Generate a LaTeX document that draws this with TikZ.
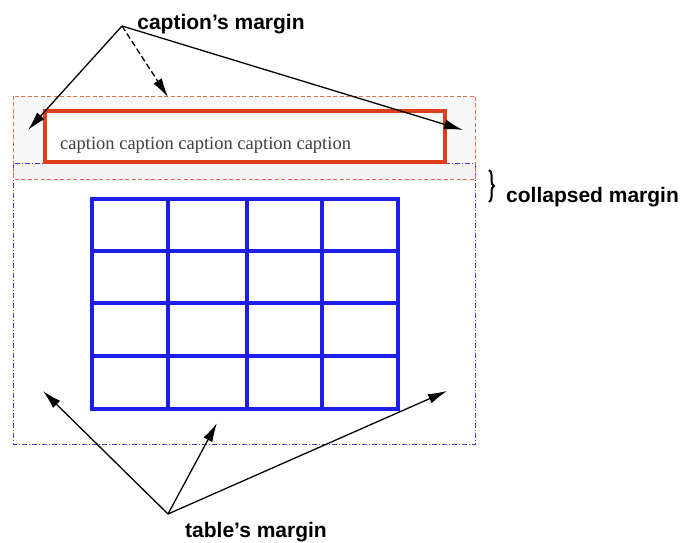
\documentclass[tikz,border=0pt]{standalone}
\usepackage{fontspec}
\setmainfont{Liberation Serif}
\setsansfont{Liberation Sans}
\usetikzlibrary{positioning,arrows.meta,decorations.pathreplacing}
\definecolor{capred}{RGB}{222,64,28}
\definecolor{marred}{RGB}{226,112,72}
\definecolor{tblblue}{RGB}{30,30,235}
\definecolor{marblue}{RGB}{72,62,200}

\begin{document}
\begin{tikzpicture}[x=1pt, y=-1pt,
  lbl/.style={font=\sffamily\bfseries\fontsize{21}{24}\selectfont, inner sep=1pt},
  capbox/.style={draw=capred, line width=4pt, fill=white, minimum width=399.5pt, minimum height=50.5pt, inner sep=0pt},
  captxt/.style={font=\fontsize{18.5}{20}\selectfont, text=black!75, inner sep=0pt},
  redmar/.style={draw=marred, dash pattern=on 4pt off 2.5pt, line width=0.9pt},
  bluemar/.style={draw=marblue, dash pattern=on 5pt off 2pt on 1pt off 2pt, line width=0.9pt},
  tblline/.style={draw=tblblue, line width=3.5pt},
  ptr/.style={-{Latex[length=19pt,width=10pt]}, line width=1.3pt},
  dptr/.style={ptr, dash pattern=on 6pt off 3pt}
]
\useasboundingbox (0,0) rectangle (686,543);

% margins: caption (red) and table (blue), overlap shaded
\fill[gray!5] (13,96) rectangle (475.5,179);
\fill[gray!9] (13,163) rectangle (475.5,179);
\draw[bluemar] (13,163) rectangle (475.5,444);
\draw[redmar] (13,96) rectangle (475.5,179);

% caption box
\node[capbox] (cap) at (244.75,136.25) {};
\node[captxt, anchor=base west] (captext) at (60,149) {caption caption caption caption caption};

% table
\draw[tblline] (92,199) rectangle (398,409);
\foreach \x in {168,247,322} \draw[tblline] (\x,199) -- (\x,409);
\foreach \y in {251,303,356} \draw[tblline] (92,\y) -- (398,\y);

% labels
\node[lbl] (capm) at (221,24) {caption’s margin};
\node[lbl] (tblm) at (256,532) {table’s margin};
\node[lbl, anchor=base west] (colm) at (505,202) {collapsed margin};
\draw[decorate, decoration={brace, amplitude=5pt}, line width=2pt] (489,170) -- (489,202);

% pointers
\coordinate (cmsrc) at (122,26);
\coordinate (ct1) at (28,130);
\coordinate (ct2) at (168,97);
\coordinate (ct3) at (463,130);
\coordinate (tmsrc) at (168,514);
\coordinate (tt1) at (43,391);
\coordinate (tt2) at (217,423);
\coordinate (tt3) at (447,391);
\draw[ptr] (cmsrc) -- (ct1);
\draw[dptr] (cmsrc) -- (ct2);
\draw[ptr] (cmsrc) -- (ct3);
\foreach \t in {tt1,tt2,tt3} \draw[ptr] (tmsrc) -- (\t);
\end{tikzpicture}
\end{document}
